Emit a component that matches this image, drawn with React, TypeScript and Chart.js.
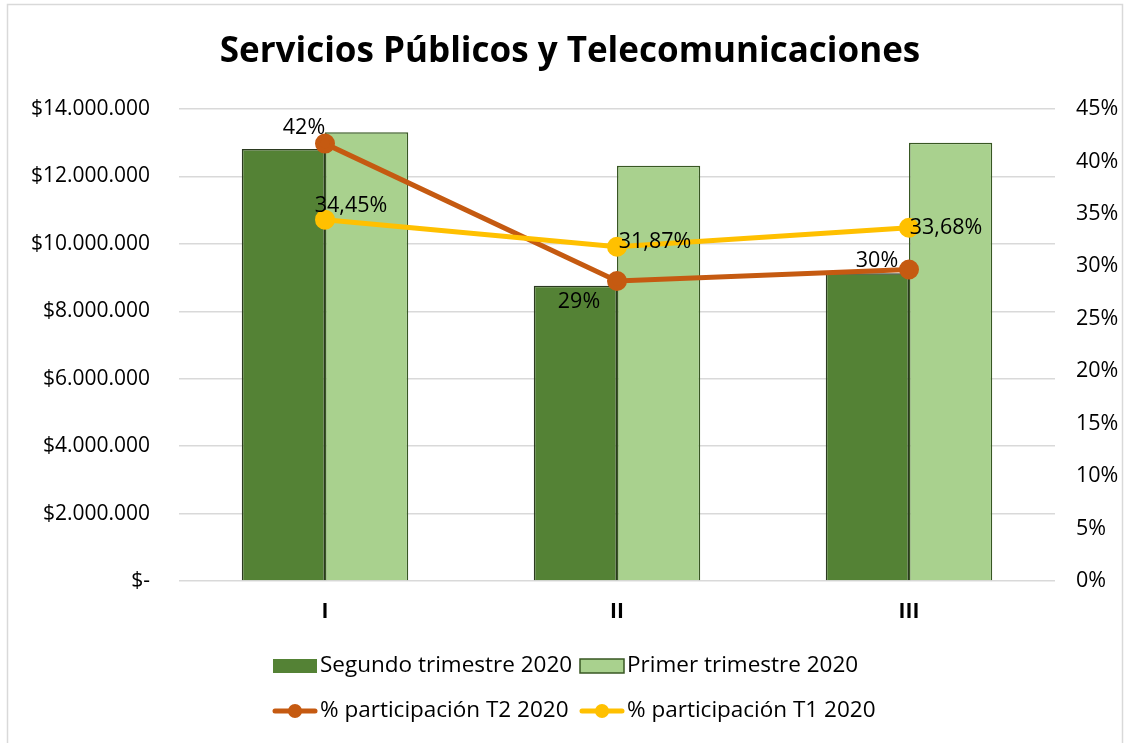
import React, { useEffect, useRef } from "react";
import { Chart, registerables } from "chart.js";

Chart.register(...registerables);

const categories = ["I", "II", "III"];
const segundoTrimestre = [12810000, 8760000, 9130000];
const primerTrimestre = [13310000, 12320000, 13000000];
const participacionT2 = [41.7, 28.6, 29.7];
const participacionT1 = [34.45, 31.87, 33.68];
const leftTickValues = [0, 2000000, 4000000, 6000000, 8000000, 10000000, 12000000, 14000000];
const rightTickValues = [0, 5, 10, 15, 20, 25, 30, 35, 40, 45];

const seriesNames = [
  "Segundo trimestre 2020",
  "Primer trimestre 2020",
  "% participación T2 2020",
  "% participación T1 2020",
];

const TITLE = "Servicios Públicos y Telecomunicaciones";
const FONT = "'Open Sans', 'Noto Sans', sans-serif";
const DARK = "#548235";
const LIGHT = "#A9D18E";
const ORANGE = "#C55A11";
const YELLOW = "#FFC000";

// label offsets (dx, dy from point to label centre) — styling only
const t2LabelOffsets = [[-21, -16], [-38, 21], [-32, -9]];
const t1LabelOffsets = [[26, -14], [38, -5], [37, 0]];

const fmtMoney = (v: number) =>
  v === 0 ? "$-" : "$" + String(Math.round(v)).replace(/\B(?=(\d{3})+(?!\d))/g, ".");

const decorPlugin = {
  id: "decor",
  beforeDraw(chart: any) {
    const ctx = chart.ctx;
    ctx.save();
    ctx.fillStyle = "#ffffff";
    ctx.fillRect(0, 0, chart.width, chart.height);
    ctx.strokeStyle = "#d9d9d9";
    ctx.lineWidth = 1.5;
    ctx.strokeRect(7.5, 4.5, 1115, 760);
    ctx.restore();
  },
  afterDatasetsDraw(chart: any) {
    const ctx = chart.ctx;
    ctx.save();
    ctx.font = `21.5px ${FONT}`;
    ctx.fillStyle = "#000000";
    ctx.textAlign = "center";
    ctx.textBaseline = "middle";
    const m2 = chart.getDatasetMeta(2);
    m2.data.forEach((p: any, i: number) => {
      const [dx, dy] = t2LabelOffsets[i];
      ctx.fillText(Math.round(participacionT2[i]) + "%", p.x + dx, p.y + dy);
    });
    const m3 = chart.getDatasetMeta(3);
    m3.data.forEach((p: any, i: number) => {
      const [dx, dy] = t1LabelOffsets[i];
      ctx.fillText(participacionT1[i].toFixed(2).replace(".", ",") + "%", p.x + dx, p.y + dy);
    });
    ctx.restore();
  },
  afterDraw(chart: any) {
    const ctx = chart.ctx;
    ctx.save();
    // title
    ctx.font = `bold 35px ${FONT}`;
    ctx.fillStyle = "#000000";
    ctx.textAlign = "center";
    ctx.textBaseline = "middle";
    ctx.fillText(TITLE, 570, 52);
    // legend
    ctx.font = `22.5px ${FONT}`;
    ctx.textAlign = "left";
    const cols = [273, 580];
    const rows = [666, 711];
    ctx.fillStyle = DARK;
    ctx.fillRect(cols[0], rows[0] - 7, 44, 14);
    ctx.fillStyle = LIGHT;
    ctx.fillRect(cols[1], rows[0] - 7, 44, 14);
    ctx.strokeStyle = "#385723";
    ctx.lineWidth = 1.5;
    ctx.strokeRect(cols[1], rows[0] - 7, 44, 14);
    const lineColors = [ORANGE, YELLOW];
    lineColors.forEach((c, i) => {
      ctx.strokeStyle = c;
      ctx.lineWidth = 5;
      ctx.lineCap = "round";
      ctx.beginPath();
      ctx.moveTo(cols[i] + 2, rows[1]);
      ctx.lineTo(cols[i] + 42, rows[1]);
      ctx.stroke();
      ctx.fillStyle = c;
      ctx.beginPath();
      ctx.arc(cols[i] + 22, rows[1], 7, 0, Math.PI * 2);
      ctx.fill();
    });
    ctx.fillStyle = "#000000";
    ctx.fillText(seriesNames[0], cols[0] + 47, rows[0]);
    ctx.fillText(seriesNames[1], cols[1] + 47, rows[0]);
    ctx.fillText(seriesNames[2], cols[0] + 47, rows[1]);
    ctx.fillText(seriesNames[3], cols[1] + 47, rows[1]);
    ctx.restore();
  },
};

export default function App() {
  const canvasRef = useRef<HTMLCanvasElement | null>(null);

  useEffect(() => {
    document.body.style.margin = "0";
    const canvas = canvasRef.current;
    if (!canvas) return;
    const chart = new Chart(canvas, {
      type: "bar",
      data: {
        labels: categories,
        datasets: [
          {
            type: "bar",
            label: seriesNames[0],
            data: segundoTrimestre,
            yAxisID: "y",
            backgroundColor: DARK,
            borderColor: "#2b3a20",
            borderWidth: 1.5,
            barPercentage: 1,
            categoryPercentage: 0.57,
            order: 2,
          },
          {
            type: "bar",
            label: seriesNames[1],
            data: primerTrimestre,
            yAxisID: "y",
            backgroundColor: LIGHT,
            borderColor: "#385723",
            borderWidth: 1.5,
            barPercentage: 1,
            categoryPercentage: 0.57,
            order: 2,
          },
          {
            type: "line",
            label: seriesNames[2],
            data: participacionT2,
            yAxisID: "y1",
            borderColor: ORANGE,
            backgroundColor: ORANGE,
            borderWidth: 5,
            pointRadius: 7.5,
            pointBackgroundColor: ORANGE,
            pointBorderColor: ORANGE,
            order: 1,
          },
          {
            type: "line",
            label: seriesNames[3],
            data: participacionT1,
            yAxisID: "y1",
            borderColor: YELLOW,
            backgroundColor: YELLOW,
            borderWidth: 5,
            pointRadius: 7.5,
            pointBackgroundColor: YELLOW,
            pointBorderColor: YELLOW,
            order: 0,
          },
        ] as any,
      },
      options: {
        responsive: false,
        animation: false,
        layout: { padding: { top: 109, left: 0, right: 0, bottom: 0 } },
        plugins: {
          legend: { display: false },
          title: { display: false },
          tooltip: { enabled: false },
        },
        scales: {
          x: {
            grid: { display: false, drawTicks: false },
            border: { display: false },
            ticks: {
              color: "#000000",
              font: { family: FONT, size: 21, weight: "bold" },
              padding: 18,
            },
            afterFit(scale: any) {
              scale.height = 162;
            },
          },
          y: {
            position: "left",
            min: 0,
            max: 14000000,
            afterBuildTicks(scale: any) {
              scale.ticks = leftTickValues.map((v) => ({ value: v }));
            },
            grid: { color: "#d9d9d9", lineWidth: 1.5, drawTicks: false },
            border: { display: false },
            ticks: {
              color: "#000000",
              font: { family: FONT, size: 21 },
              padding: 29,
              callback: (v: any) => fmtMoney(Number(v)),
            },
            afterFit(scale: any) {
              scale.width = 179;
            },
          },
          y1: {
            position: "right",
            min: 0,
            max: 45,
            afterBuildTicks(scale: any) {
              scale.ticks = rightTickValues.map((v) => ({ value: v }));
            },
            grid: { display: false, drawTicks: false },
            border: { display: false },
            ticks: {
              color: "#000000",
              font: { family: FONT, size: 21.5 },
              padding: 21,
              callback: (v: any) => v + "%",
            },
            afterFit(scale: any) {
              scale.width = 70;
            },
          },
        },
      } as any,
      plugins: [decorPlugin],
    });
    return () => chart.destroy();
  }, []);

  return (
    <div style={{ width: 1125, height: 743 }}>
      <canvas ref={canvasRef} width={1125} height={743} style={{ display: "block" }} />
    </div>
  );
}
